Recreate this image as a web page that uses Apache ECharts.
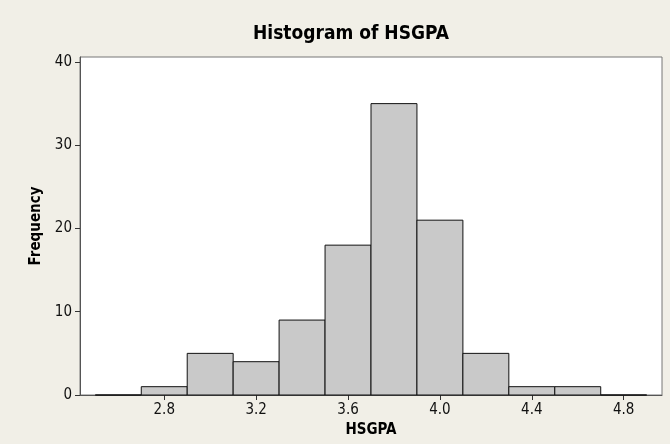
<!DOCTYPE html>
<html lang="en">
<head>
  <meta charset="UTF-8">
  <title>Histogram of HSGPA</title>
  <script src="https://cdn.jsdelivr.net/npm/echarts@6/dist/echarts.min.js"></script>
  <style>
    html, body { margin: 0; padding: 0; background: #F1EFE7; }
  </style>
</head>
<body>
  <div id="main" style="width: 670px;height:444px;"></div>

  <script type="text/javascript">
    // bin edges and counts
    var binStart = [2.5, 2.7, 2.9, 3.1, 3.3, 3.5, 3.7, 3.9, 4.1, 4.3, 4.5, 4.7];
    var binEnd   = [2.7, 2.9, 3.1, 3.3, 3.5, 3.7, 3.9, 4.1, 4.3, 4.5, 4.7, 4.9];
    var counts   = [0, 1, 5, 4, 9, 18, 35, 21, 5, 1, 1, 0];
    var xTicks = [2.8, 3.2, 3.6, 4.0, 4.4, 4.8];
    var yTicks = [0, 10, 20, 30, 40];

    var font = "'DejaVu Sans Condensed', 'Liberation Sans Narrow', 'Liberation Sans', sans-serif";

    var data = [];
    binStart.forEach(function (s, i) {
      data.push([s, binEnd[i], counts[i]]);
    });

    var myChart = echarts.init(document.getElementById('main'));

    var option = {
      backgroundColor: '#F1EFE7',
      animation: false,
      title: {
        text: 'Histogram of HSGPA',
        left: 248,
        top: 20,
        textStyle: { fontFamily: font, fontSize: 19, fontWeight: 'bold', color: '#000' }
      },
      grid: {
        left: 80, right: 8, top: 57, bottom: 49,
        show: true,
        backgroundColor: '#fff',
        borderColor: '#777',
        borderWidth: 1
      },
      xAxis: {
        type: 'value',
        min: 2.4333,
        max: 4.9667,
        name: 'HSGPA',
        nameLocation: 'middle',
        nameGap: 27,
        nameTextStyle: { fontFamily: font, fontSize: 15, fontWeight: 'bold', color: '#000' },
        splitLine: { show: false },
        axisLine: { show: true, lineStyle: { color: '#555' } },
        axisTick: { show: true, length: 5, customValues: xTicks, lineStyle: { color: '#333' } },
        axisLabel: {
          customValues: xTicks,
          margin: 8,
          fontFamily: font, fontSize: 15, color: '#111',
          formatter: function (v) { return v.toFixed(1); }
        }
      },
      yAxis: {
        type: 'value',
        min: 0,
        max: 40.6,
        name: 'Frequency',
        nameLocation: 'middle',
        nameGap: 35,
        nameTextStyle: { fontFamily: font, fontSize: 15, fontWeight: 'bold', color: '#000' },
        splitLine: { show: false },
        axisLine: { show: true, lineStyle: { color: '#555' } },
        axisTick: { show: true, length: 5, customValues: yTicks, lineStyle: { color: '#333' } },
        axisLabel: {
          customValues: yTicks,
          margin: 8,
          fontFamily: font, fontSize: 15, color: '#111'
        }
      },
      series: [{
        type: 'custom',
        data: data,
        encode: { x: [0, 1], y: 2 },
        renderItem: function (params, api) {
          var p0 = api.coord([api.value(0), api.value(2)]);
          var p1 = api.coord([api.value(1), 0]);
          return {
            type: 'rect',
            shape: { x: p0[0], y: p0[1], width: p1[0] - p0[0], height: p1[1] - p0[1] },
            style: { fill: '#C9C9C9', stroke: '#111', lineWidth: 1 }
          };
        }
      }]
    };

    myChart.setOption(option);
  </script>
</body>
</html>
